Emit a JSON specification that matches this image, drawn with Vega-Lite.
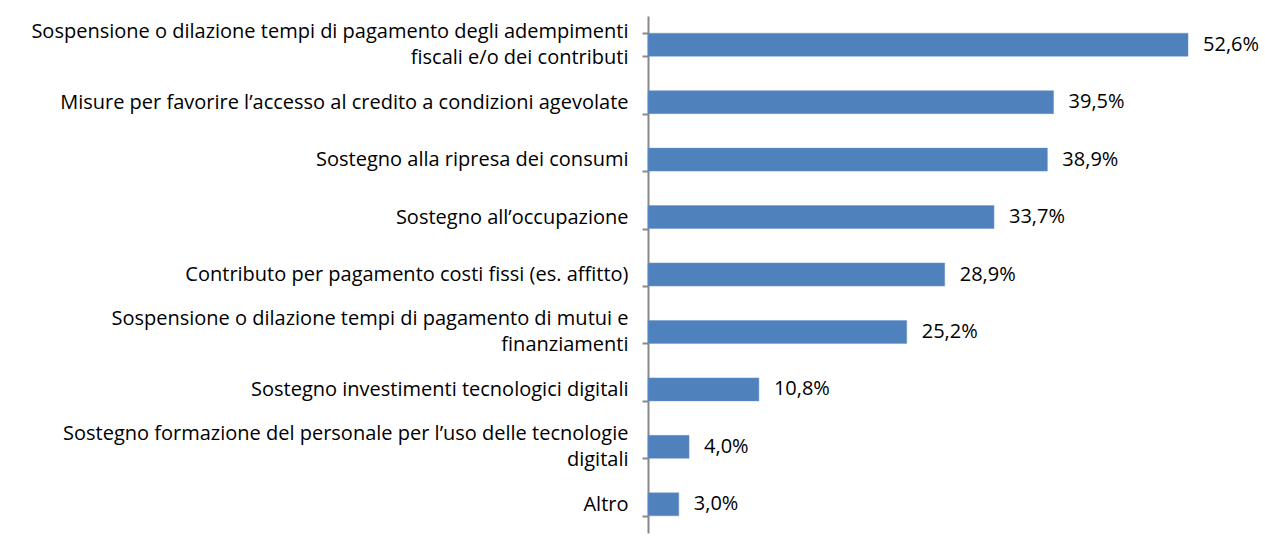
{
  "$schema": "https://vega.github.io/schema/vega-lite/v6.json",
  "autosize": {"type": "none"},
  "padding": {"left": 648, "top": 16, "right": 1, "bottom": 10},
  "width": 616,
  "height": 517,
  "config": {
    "view": {"stroke": null},
    "font": "Open Sans",
    "locale": {"number": {"decimal": ",", "thousands": ".", "grouping": [3], "currency": ["€", ""]}}
  },
  "data": {
    "values": [
      {"cat": "Sospensione o dilazione tempi di pagamento degli adempimenti|fiscali e/o dei contributi", "v": 0.526},
      {"cat": "Misure per favorire l’accesso al credito a condizioni agevolate", "v": 0.395},
      {"cat": "Sostegno alla ripresa dei consumi", "v": 0.389},
      {"cat": "Sostegno all’occupazione", "v": 0.337},
      {"cat": "Contributo per pagamento costi fissi (es. affitto)", "v": 0.289},
      {"cat": "Sospensione o dilazione tempi di pagamento di mutui e|finanziamenti", "v": 0.252},
      {"cat": "Sostegno investimenti tecnologici digitali", "v": 0.108},
      {"cat": "Sostegno formazione del personale per l’uso delle tecnologie|digitali", "v": 0.04},
      {"cat": "Altro", "v": 0.03}
    ]
  },
  "encoding": {
    "y": {
      "field": "cat",
      "type": "nominal",
      "sort": null,
      "scale": {"paddingInner": 0.6, "paddingOuter": 0.3},
      "axis": {
        "title": null,
        "labelExpr": "split(datum.label, '|')",
        "labelFont": "Open Sans",
        "labelFontSize": 20,
        "labelColor": "#000000",
        "labelLineHeight": 26,
        "labelPadding": 14,
        "labelLimit": 700,
        "labelOffset": {"condition": {"test": "indexof(datum.label, '|') >= 0", "value": -13}, "value": 0},
        "tickBand": "extent",
        "tickSize": 6,
        "tickColor": "#888888",
        "tickWidth": 2,
        "domainColor": "#888888",
        "domainWidth": 2
      }
    },
    "x": {
      "field": "v",
      "type": "quantitative",
      "scale": {"domain": [0, 0.6]},
      "axis": null
    }
  },
  "layer": [
    {"mark": {"type": "bar", "color": "#4F81BD", "stroke": "#6A95CC", "strokeWidth": 0.5}},
    {
      "mark": {"type": "text", "align": "left", "baseline": "middle", "dx": 15, "fontSize": 20, "color": "#000000"},
      "encoding": {"text": {"field": "v", "type": "quantitative", "format": ".1%"}}
    }
  ]
}
